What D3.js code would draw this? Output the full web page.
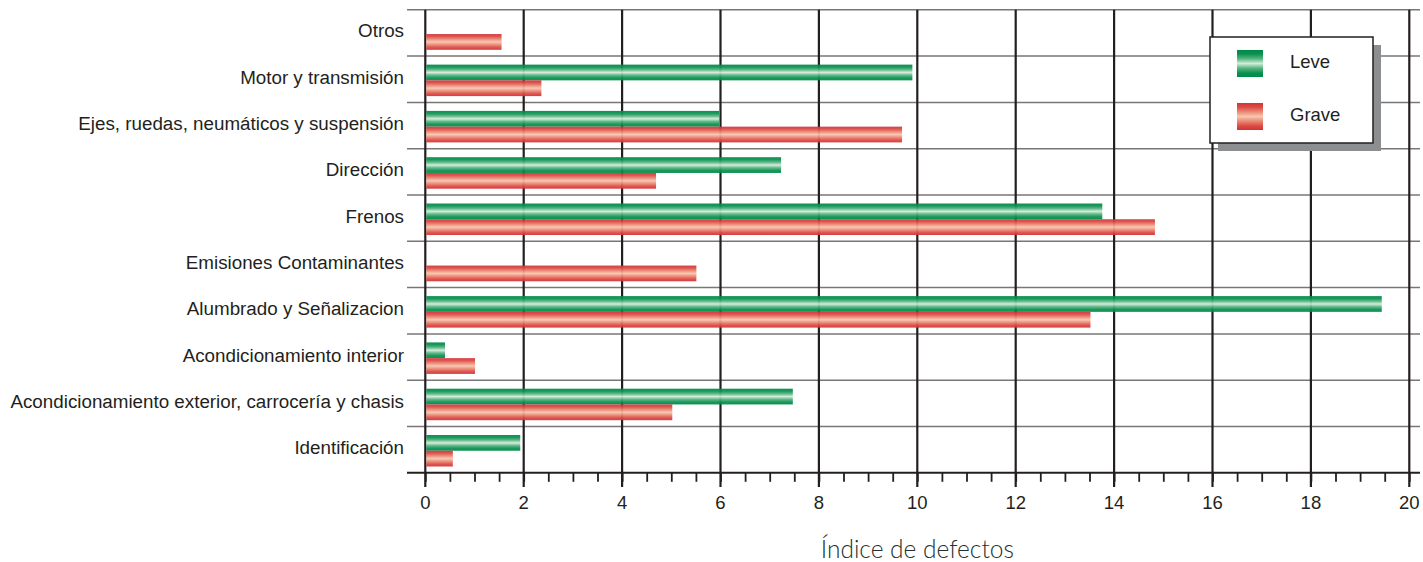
<!DOCTYPE html>
<html><head><meta charset="utf-8">
<script src="https://cdn.jsdelivr.net/npm/d3@7"></script>
<style>
html,body{margin:0;padding:0;background:#fff;}
svg{display:block;}
</style></head>
<body>
<svg id="chart" width="1423" height="562"></svg>
<script>
const categories = ["Otros","Motor y transmisión","Ejes, ruedas, neumáticos y suspensión","Dirección","Frenos","Emisiones Contaminantes","Alumbrado y Señalizacion","Acondicionamiento interior","Acondicionamiento exterior, carrocería y chasis","Identificación"];
const leve  = [0, 9.90, 5.97, 7.23, 13.76, 0, 19.44, 0.40, 7.47, 1.93];
const grave = [1.55, 2.36, 9.69, 4.69, 14.83, 5.51, 13.52, 1.01, 5.02, 0.56];
const seriesNames = ["Leve","Grave"];
const xTicks = [0,2,4,6,8,10,12,14,16,18,20];
const axisTitle = "Índice de defectos";

const svg = d3.select("#chart");
const x = d3.scaleLinear().domain([0,20]).range([425.3,1409.3]);
const y = d3.scaleBand().domain(categories).range([9.8,472.8]).paddingInner(0).paddingOuter(0);
const inner = d3.scaleBand().domain(seriesNames).range([8.5, 40]);
const font = "'Liberation Sans', Arial, Helvetica, sans-serif";

const defs = svg.append("defs");
function grad(id, stops){
  const g = defs.append("linearGradient").attr("id",id).attr("x1",0).attr("y1",0).attr("x2",0).attr("y2",1);
  stops.forEach(([o,c])=>g.append("stop").attr("offset",o).attr("stop-color",c));
}
grad("gGreen",[[0,"#008a47"],[0.15,"#0a9150"],[0.32,"#55b37f"],[0.5,"#d2ecda"],[0.68,"#55b37f"],[0.85,"#0a9150"],[1,"#008a47"]]);
grad("gRed",[[0,"#d2323a"],[0.15,"#dc4a44"],[0.32,"#ea8672"],[0.5,"#f8c5af"],[0.68,"#ea8672"],[0.85,"#dc4a44"],[1,"#d2323a"]]);
const fills = {Leve:"url(#gGreen)", Grave:"url(#gRed)"};

// horizontal row lines
const rowLines = categories.map(c=>y(c));
svg.append("g").selectAll("line").data(rowLines).join("line")
  .attr("x1",407).attr("x2",1420).attr("y1",d=>d).attr("y2",d=>d)
  .attr("stroke","#777").attr("stroke-width",1.5);

// vertical gridlines
svg.append("g").selectAll("line").data(xTicks).join("line")
  .attr("x1",d=>x(d)).attr("x2",d=>x(d)).attr("y1",y.range()[0]).attr("y2",487)
  .attr("stroke","#231f20").attr("stroke-width",2.2);

// bars
const rows = categories.map((c,i)=>({c, vals:[{s:"Leve",v:leve[i]},{s:"Grave",v:grave[i]}]}));
const gRows = svg.append("g").selectAll("g").data(rows).join("g")
  .attr("transform",d=>`translate(0,${y(d.c)})`);
gRows.selectAll("rect").data(d=>d.vals.filter(e=>e.v>0)).join("rect")
  .attr("x",x(0)+1).attr("y",d=>inner(d.s)).attr("height",inner.bandwidth())
  .attr("width",d=>x(d.v)-x(0)-1).attr("fill",d=>fills[d.s]).attr("opacity",0.94);

// bottom axis
const axis = d3.axisBottom(x).tickValues(d3.range(0,20.01,0.5)).tickSize(9).tickFormat("");
const ax = svg.append("g").attr("transform",`translate(0,${y.range()[1]})`).call(axis);
ax.select(".domain").remove();
ax.selectAll(".tick line").attr("stroke","#231f20").attr("stroke-width",1.8);
svg.append("line").attr("x1",407).attr("x2",1420).attr("y1",y.range()[1]).attr("y2",y.range()[1])
  .attr("stroke","#231f20").attr("stroke-width",2);

svg.append("g").selectAll("text").data(xTicks).join("text")
  .attr("x",d=>x(d)).attr("y",508.5).attr("text-anchor","middle")
  .attr("font-family",font).attr("font-size",18.5).attr("fill","#231f20").text(d=>d);

// category labels
svg.append("g").selectAll("text").data(categories).join("text")
  .attr("x",404).attr("y",d=>y(d)+y.bandwidth()/2+4.5).attr("text-anchor","end")
  .attr("font-family",font).attr("font-size",18.8).attr("fill","#231f20").text(d=>d);

// axis title
svg.append("text").attr("x",x(10)).attr("y",558).attr("text-anchor","middle")
  .attr("font-family","Lato, 'Open Sans', sans-serif").attr("font-weight",300).attr("font-size",24.5)
  .attr("fill","#24302f").text(axisTitle);

// legend
const lg = svg.append("g");
lg.append("rect").attr("x",1218).attr("y",45).attr("width",163).attr("height",106).attr("fill","#8d8e90");
lg.append("rect").attr("x",1210).attr("y",37).attr("width",163).attr("height",106).attr("fill","#fff")
  .attr("stroke","#231f20").attr("stroke-width",1.5);
seriesNames.forEach((s,i)=>{
  lg.append("rect").attr("x",1237).attr("y",50+i*53).attr("width",26).attr("height",27).attr("fill",fills[s]);
  lg.append("text").attr("x",1290).attr("y",68+i*53).attr("font-family",font).attr("font-size",18.5)
    .attr("fill","#231f20").text(s);
});
</script>
</body></html>
